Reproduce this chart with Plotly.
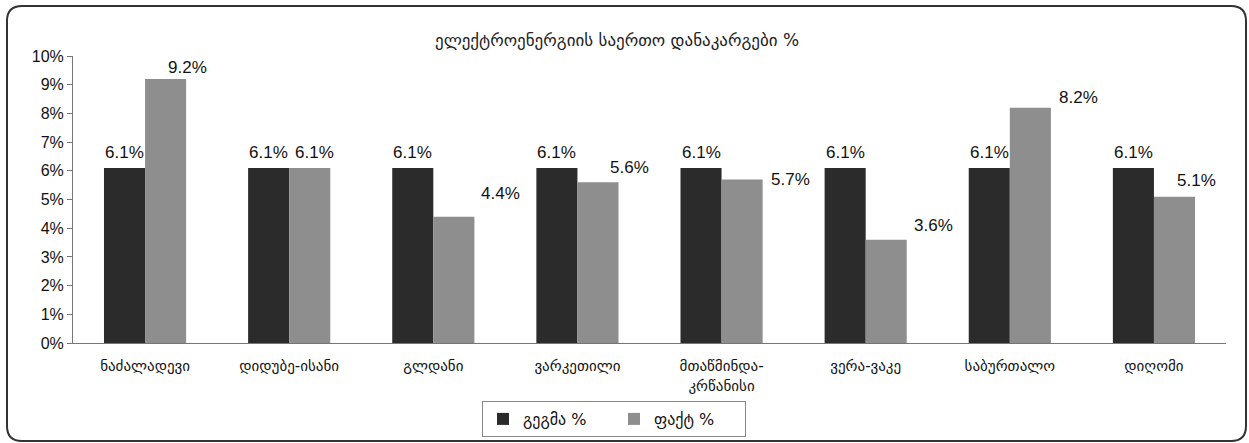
import plotly.graph_objects as go

# Districts of Tbilisi and total electricity losses, %
districts = [
    "ნაძალადევი", "დიდუბე-ისანი", "გლდანი", "ვარკეთილი",
    "მთაწმინდა-<br>კრწანისი", "ვერა-ვაკე", "საბურთალო", "დიღომი",
]
plan = [6.1, 6.1, 6.1, 6.1, 6.1, 6.1, 6.1, 6.1]
fact = [9.2, 6.1, 4.4, 5.6, 5.7, 3.6, 8.2, 5.1]
series_names = ["გეგმა %", "ფაქტ %"]
title_text = "ელექტროენერგიის საერთო დანაკარგები %"

# label nudges (pixels) for the fact-series value labels
fact_label_dx = [22, 5, 47, 32, 48, 47, 48, 22]
fact_label_dy = [11, 15, 23, 15, 0, 14, 10, 16]

W, H = 1249, 443
ML, MR, MT, MB = 73, 23, 56, 100
PW, PH = W - ML - MR, H - MT - MB

FONT = "Liberation Sans, Arial, DejaVu Sans, sans-serif"
GEO = "DejaVu Sans, Liberation Sans, sans-serif"
DARK = "#2b2b2b"
LIGHT = "#8e8e8e"

plan_frac = [v / 100 for v in plan]
fact_frac = [v / 100 for v in fact]

fig = go.Figure()
fig.add_trace(go.Bar(x=districts, y=plan_frac, name=series_names[0],
                     marker=dict(color=DARK, line=dict(width=0))))
fig.add_trace(go.Bar(x=districts, y=fact_frac, name=series_names[1],
                     marker=dict(color=LIGHT, line=dict(width=0))))

cat_w = PW / len(districts)
bargap = 0.43
bar_w = cat_w * (1 - bargap) / 2

annotations = []
for i, d in enumerate(districts):
    annotations.append(dict(
        x=d, y=plan_frac[i], xref="x", yref="y", text=f"{plan[i]:.1f}%",
        showarrow=False, xshift=-bar_w / 2, yshift=15, yanchor="middle",
        font=dict(family=FONT, size=17, color="#111")))
    annotations.append(dict(
        x=d, y=fact_frac[i], xref="x", yref="y", text=f"{fact[i]:.1f}%",
        showarrow=False, xshift=bar_w / 2 + fact_label_dx[i],
        yshift=fact_label_dy[i], yanchor="middle",
        font=dict(family=FONT, size=17, color="#111")))

annotations.append(dict(
    x=(617 - ML) / PW, y=(H - 40 - MB) / PH, xref="paper", yref="paper",
    text=title_text, showarrow=False, xanchor="center", yanchor="middle",
    font=dict(family=GEO, size=17, color="#222")))


def px_x(p):
    return (p - ML) / PW


def px_y(p):
    return (H - MB - p) / PH


# rounded frame around the whole chart
x0, x1, y0, y1, r = 7, 1246, 6, 441, 15
path = (
    f"M {px_x(x0 + r)},{px_y(y0)} L {px_x(x1 - r)},{px_y(y0)} "
    f"Q {px_x(x1)},{px_y(y0)} {px_x(x1)},{px_y(y0 + r)} "
    f"L {px_x(x1)},{px_y(y1 - r)} "
    f"Q {px_x(x1)},{px_y(y1)} {px_x(x1 - r)},{px_y(y1)} "
    f"L {px_x(x0 + r)},{px_y(y1)} "
    f"Q {px_x(x0)},{px_y(y1)} {px_x(x0)},{px_y(y1 - r)} "
    f"L {px_x(x0)},{px_y(y0 + r)} "
    f"Q {px_x(x0)},{px_y(y0)} {px_x(x0 + r)},{px_y(y0)} Z"
)

fig.update_layout(
    width=W, height=H,
    margin=dict(l=ML, r=MR, t=MT, b=MB, pad=0, autoexpand=False),
    paper_bgcolor="white", plot_bgcolor="white",
    barmode="group", bargap=bargap, bargroupgap=0,
    showlegend=True,
    legend=dict(
        orientation="h", xref="container", yref="container",
        x=614 / W, xanchor="center",
        y=1 - 401 / H, yanchor="top",
        bordercolor="#888", borderwidth=1, bgcolor="white",
        font=dict(family=GEO, size=16, color="#111"),
        itemwidth=30, tracegroupgap=0, entrywidth=86,
    ),
    annotations=annotations,
    shapes=[dict(type="path", path=path, xref="paper", yref="paper",
                 line=dict(color="#333", width=2), layer="above")],
    font=dict(family=FONT, color="#111"),
)

fig.update_yaxes(
    range=[0, 0.10], dtick=0.01, tickformat=".0%",
    showgrid=False, zeroline=False, automargin=False,
    showline=True, linecolor="#777", linewidth=1,
    ticks="outside", ticklen=5, tickcolor="#777",
    tickfont=dict(family=FONT, size=16, color="#111"),
)
fig.update_xaxes(
    showgrid=False, showline=True, linecolor="#777", linewidth=1,
    ticks="", ticklabelstandoff=9, automargin=False,
    tickfont=dict(family=GEO, size=15, color="#111"),
)

fig.write_html("out.html")
